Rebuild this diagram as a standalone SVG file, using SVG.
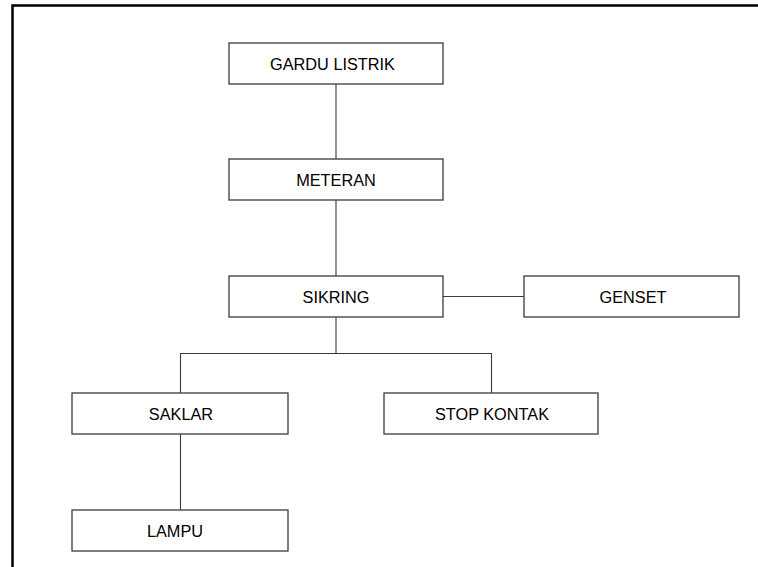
<svg xmlns="http://www.w3.org/2000/svg" width="758" height="567" viewBox="0 0 758 567">
<style>
.box{fill:#fff;stroke:#3a3a3a;stroke-width:1.3}
.lbl{font-family:"Liberation Sans",Arial,sans-serif;font-size:16.3px;fill:#000;text-anchor:middle;dominant-baseline:central}
.con{stroke:#3a3a3a;stroke-width:1.1;fill:none}
</style>
<rect x="0" y="0" width="758" height="567" fill="#fff"/>
<path d="M12.5,580 V5.5 H770" fill="none" stroke="#000" stroke-width="2.5"/>
<g id="connectors">
<line class="con" x1="336" y1="84" x2="336" y2="159"/>
<line class="con" x1="336" y1="200" x2="336" y2="276"/>
<line class="con" x1="443" y1="296.5" x2="524" y2="296.5"/>
<polyline class="con" points="336,317 336,353.5 180.5,353.5 180.5,393"/>
<polyline class="con" points="336,353.5 491.5,353.5 491.5,393"/>
<line class="con" x1="180.5" y1="434" x2="180.5" y2="510"/>
</g>
<g id="gardu"><rect class="box" x="229" y="43" width="214" height="41"/><text class="lbl" x="332.5" y="64">GARDU LISTRIK</text></g>
<g id="meteran"><rect class="box" x="229" y="159" width="214" height="41"/><text class="lbl" x="336" y="180">METERAN</text></g>
<g id="sikring"><rect class="box" x="229" y="276" width="214" height="41"/><text class="lbl" x="336" y="297">SIKRING</text></g>
<g id="genset"><rect class="box" x="524" y="276" width="215" height="41"/><text class="lbl" x="633" y="297">GENSET</text></g>
<g id="saklar"><rect class="box" x="72" y="393" width="216" height="41"/><text class="lbl" x="181" y="414">SAKLAR</text></g>
<g id="stopkontak"><rect class="box" x="384" y="393" width="214" height="41"/><text class="lbl" x="492" y="414">STOP KONTAK</text></g>
<g id="lampu"><rect class="box" x="72" y="510" width="216" height="41"/><text class="lbl" x="175" y="531">LAMPU</text></g>
</svg>
